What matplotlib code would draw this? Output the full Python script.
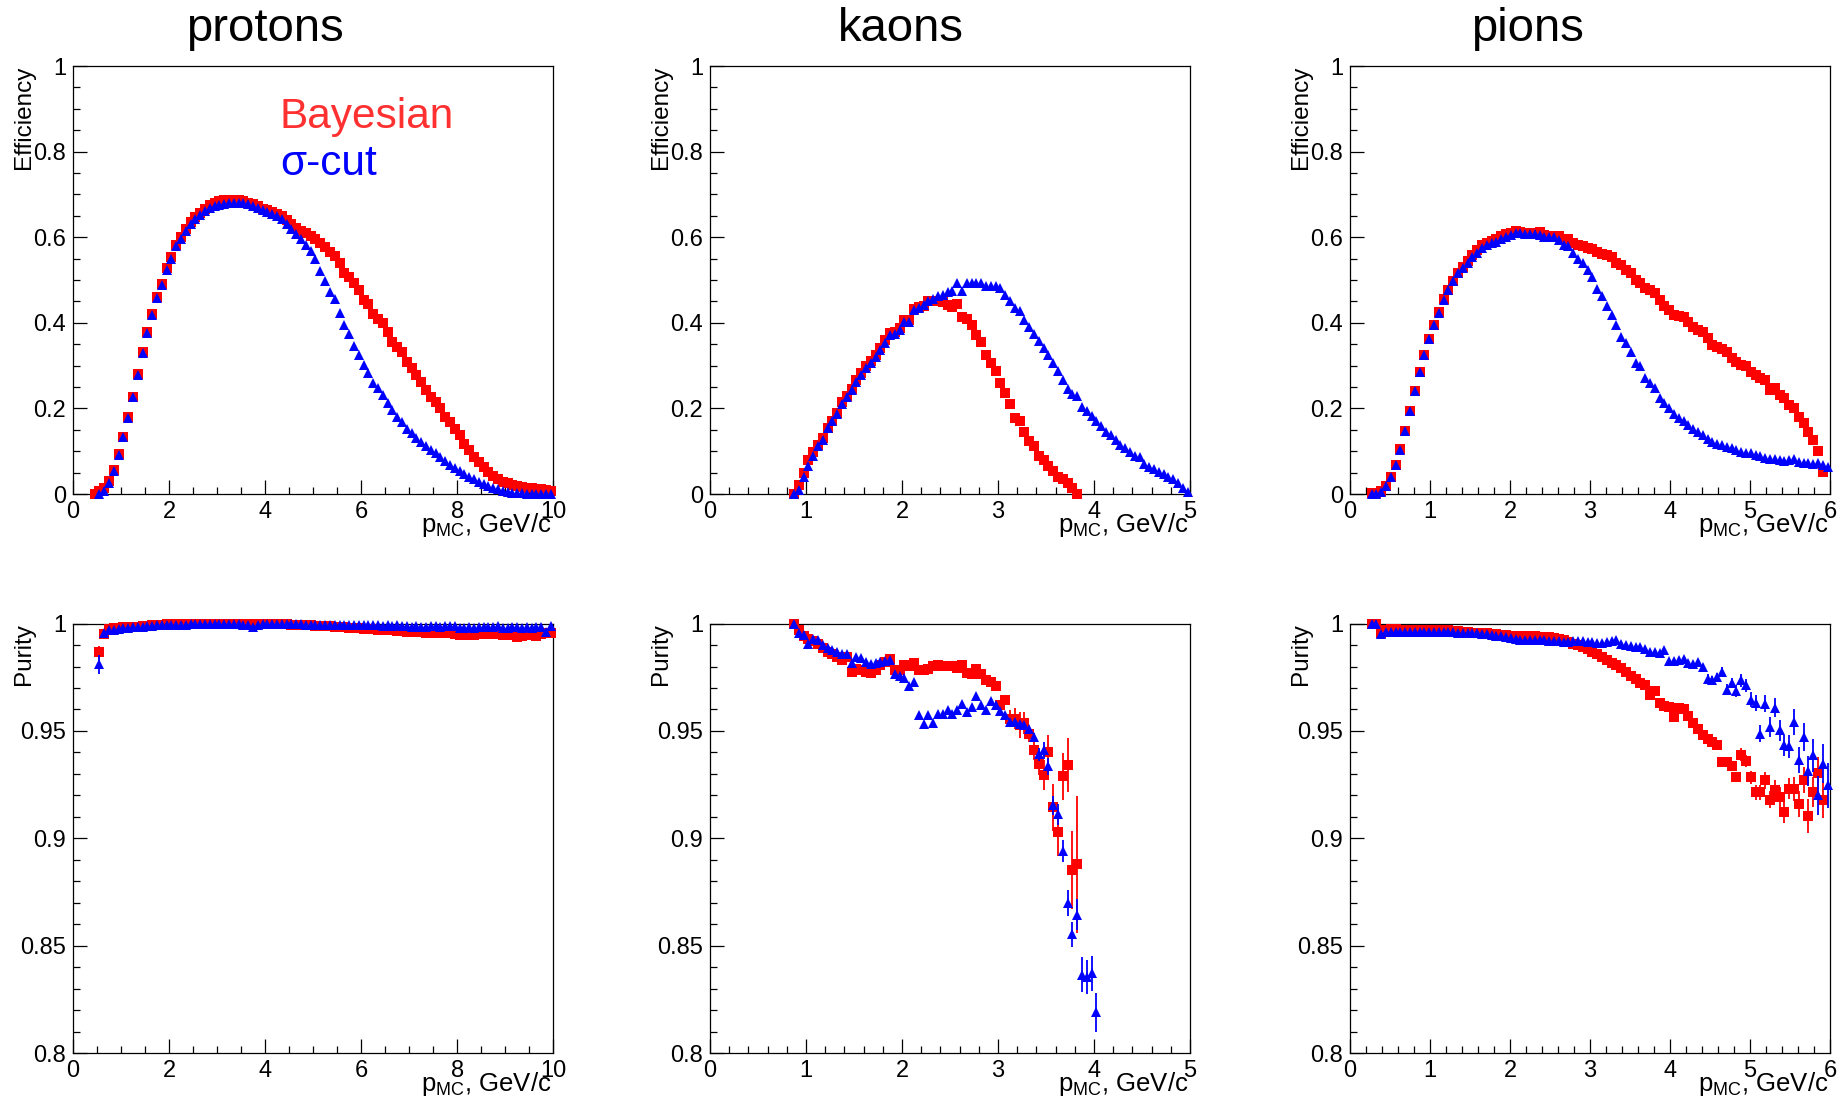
import numpy as np
import matplotlib
matplotlib.use("Agg")
import matplotlib.pyplot as plt
from matplotlib.ticker import MultipleLocator, FuncFormatter

plt.rcParams['font.family'] = ['Liberation Sans', 'DejaVu Sans']
plt.rcParams['mathtext.default'] = 'regular'

RED = '#ff0000'
BLUE = '#0000ff'

# ---------------- data (100-bin histograms) -------------
# protons: bin width 0.1 GeV/c
proton_eff_bayes_x0 = 0.45
proton_eff_bayes = [
    0.001, 0.006, 0.014, 0.030, 0.056, 0.093, 0.134, 0.180, 0.227, 0.280,
    0.331, 0.378, 0.420, 0.460, 0.490, 0.527, 0.553, 0.582, 0.601, 0.620,
    0.636, 0.647, 0.657, 0.667, 0.675, 0.681, 0.684, 0.686, 0.687, 0.687,
    0.686, 0.685, 0.681, 0.677, 0.672, 0.667, 0.663, 0.659, 0.655, 0.650,
    0.641, 0.631, 0.622, 0.615, 0.610, 0.604, 0.597, 0.587, 0.578, 0.566,
    0.555, 0.539, 0.516, 0.508, 0.492, 0.477, 0.453, 0.444, 0.420, 0.410,
    0.399, 0.379, 0.356, 0.344, 0.333, 0.309, 0.294, 0.278, 0.262, 0.243,
    0.227, 0.216, 0.200, 0.181, 0.169, 0.153, 0.138, 0.118, 0.103, 0.087,
    0.076, 0.064, 0.052, 0.042, 0.034, 0.029, 0.025, 0.021, 0.019, 0.017,
    0.015, 0.013, 0.012, 0.011, 0.009, 0.008]
proton_eff_sigma_x0 = 0.55
proton_eff_sigma = [
    0.000, 0.008, 0.025, 0.055, 0.092, 0.133, 0.178, 0.226, 0.279, 0.330,
    0.377, 0.419, 0.459, 0.489, 0.524, 0.550, 0.579, 0.597, 0.615, 0.631,
    0.643, 0.652, 0.661, 0.668, 0.673, 0.676, 0.678, 0.679, 0.680, 0.680,
    0.679, 0.677, 0.673, 0.668, 0.663, 0.659, 0.654, 0.649, 0.642, 0.632,
    0.620, 0.608, 0.596, 0.583, 0.568, 0.548, 0.522, 0.498, 0.473, 0.455,
    0.424, 0.395, 0.373, 0.347, 0.325, 0.301, 0.283, 0.260, 0.247, 0.231,
    0.213, 0.196, 0.179, 0.169, 0.153, 0.142, 0.132, 0.122, 0.112, 0.103,
    0.095, 0.086, 0.078, 0.068, 0.062, 0.055, 0.047, 0.040, 0.034, 0.029,
    0.023, 0.019, 0.015, 0.011, 0.008, 0.005, 0.003, 0.002, 0.002, 0.001,
    0.001, 0.001, 0.001, 0.001, 0.001]
proton_pur_x0 = 0.55
proton_pur_bayes = [
    0.9867, 0.9950, 0.9975, 0.9979, 0.9981, 0.9983, 0.9984, 0.9985, 0.9986, 0.9988,
    0.9990, 0.9991, 0.9991, 0.9993, 0.9996, 0.9997, 0.9998, 0.9998, 0.9998, 0.9998,
    0.9998, 0.9998, 0.9998, 0.9998, 0.9998, 0.9998, 0.9998, 0.9998, 0.9998, 0.9998,
    0.9997, 0.9997, 0.9997, 0.9997, 0.9997, 0.9997, 0.9997, 0.9997, 0.9997, 0.9997,
    0.9995, 0.9993, 0.9992, 0.9991, 0.9991, 0.9990, 0.9989, 0.9988, 0.9987, 0.9986,
    0.9985, 0.9983, 0.9981, 0.9980, 0.9979, 0.9977, 0.9975, 0.9973, 0.9972, 0.9970,
    0.9969, 0.9968, 0.9966, 0.9965, 0.9962, 0.9961, 0.9960, 0.9962, 0.9958, 0.9955,
    0.9957, 0.9959, 0.9956, 0.9957, 0.9952, 0.9948, 0.9950, 0.9946, 0.9945, 0.9950,
    0.9952, 0.9951, 0.9952, 0.9950, 0.9948, 0.9947, 0.9945, 0.9936, 0.9940, 0.9946,
    0.9948, 0.9944, 0.9950, 0.9955, 0.9957]
proton_pur_sigma = [
    0.9810, 0.9955, 0.9968, 0.9972, 0.9975, 0.9978, 0.9980, 0.9982, 0.9984, 0.9986,
    0.9988, 0.9990, 0.9991, 0.9992, 0.9993, 0.9994, 0.9995, 0.9995, 0.9995, 0.9996,
    0.9996, 0.9996, 0.9996, 0.9996, 0.9996, 0.9996, 0.9996, 0.9996, 0.9996, 0.9996,
    0.9995, 0.9993, 0.9985, 0.9995, 0.9996, 0.9996, 0.9996, 0.9996, 0.9996, 0.9996,
    0.9996, 0.9996, 0.9996, 0.9995, 0.9995, 0.9995, 0.9995, 0.9994, 0.9995, 0.9994,
    0.9994, 0.9993, 0.9994, 0.9993, 0.9994, 0.9993, 0.9992, 0.9991, 0.9992, 0.9990,
    0.9991, 0.9990, 0.9991, 0.9989, 0.9988, 0.9986, 0.9987, 0.9985, 0.9984, 0.9987,
    0.9990, 0.9985, 0.9988, 0.9987, 0.9989, 0.9978, 0.9980, 0.9982, 0.9981, 0.9983,
    0.9982, 0.9984, 0.9985, 0.9990, 0.9980, 0.9979, 0.9982, 0.9985, 0.9981, 0.9984,
    0.9980, 0.9983, 0.9985, 0.9960, 0.9990]
proton_pur_bayes_err_head = [0.003, 0.001]
proton_pur_sigma_err_head = [0.0045, 0.001]

# kaons: bin width 0.05 GeV/c
kaon_x0 = 0.875
kaon_eff_bayes = [
    0.000, 0.020, 0.050, 0.080, 0.098, 0.115, 0.131, 0.155, 0.170, 0.190,
    0.215, 0.230, 0.246, 0.266, 0.282, 0.298, 0.312, 0.326, 0.342, 0.360,
    0.376, 0.378, 0.387, 0.406, 0.406, 0.432, 0.438, 0.440, 0.450, 0.450,
    0.450, 0.448, 0.442, 0.438, 0.444, 0.414, 0.410, 0.394, 0.371, 0.355,
    0.326, 0.306, 0.288, 0.259, 0.235, 0.211, 0.178, 0.170, 0.146, 0.123,
    0.112, 0.090, 0.080, 0.066, 0.054, 0.040, 0.035, 0.026, 0.014, 0.000]
kaon_eff_sigma = [
    0.000, 0.010, 0.040, 0.066, 0.090, 0.112, 0.126, 0.154, 0.170, 0.187,
    0.211, 0.227, 0.243, 0.262, 0.278, 0.294, 0.306, 0.320, 0.336, 0.354,
    0.371, 0.374, 0.384, 0.402, 0.402, 0.430, 0.434, 0.442, 0.450, 0.455,
    0.463, 0.466, 0.472, 0.475, 0.492, 0.475, 0.492, 0.494, 0.494, 0.494,
    0.486, 0.486, 0.486, 0.482, 0.466, 0.450, 0.434, 0.427, 0.406, 0.390,
    0.374, 0.358, 0.342, 0.326, 0.306, 0.288, 0.266, 0.246, 0.234, 0.230,
    0.203, 0.194, 0.182, 0.170, 0.158, 0.146, 0.138, 0.126, 0.115, 0.107,
    0.098, 0.090, 0.086, 0.070, 0.064, 0.058, 0.051, 0.046, 0.040, 0.034,
    0.026, 0.014, 0.004]
kaon_pur_bayes = [
    1.0000, 0.9969, 0.9941, 0.9930, 0.9919, 0.9907, 0.9888, 0.9868, 0.9860, 0.9845,
    0.9832, 0.9845, 0.9775, 0.9790, 0.9782, 0.9775, 0.9770, 0.9782, 0.9806, 0.9821,
    0.9837, 0.9782, 0.9786, 0.9806, 0.9801, 0.9817, 0.9786, 0.9786, 0.9790, 0.9801,
    0.9806, 0.9801, 0.9801, 0.9801, 0.9795, 0.9806, 0.9770, 0.9767, 0.9790, 0.9767,
    0.9736, 0.9728, 0.9708, 0.9619, 0.9646, 0.9557, 0.9557, 0.9526, 0.9537, 0.9487,
    0.9413, 0.9344, 0.9293, 0.9402, 0.9145, 0.9029, 0.9288, 0.9340, 0.8853, 0.8878]
kaon_pur_sigma = [
    1.0000, 0.9956, 0.9946, 0.9907, 0.9930, 0.9925, 0.9899, 0.9888, 0.9879, 0.9868,
    0.9860, 0.9860, 0.9817, 0.9845, 0.9841, 0.9821, 0.9814, 0.9817, 0.9821, 0.9826,
    0.9829, 0.9764, 0.9754, 0.9748, 0.9708, 0.9728, 0.9573, 0.9534, 0.9573, 0.9537,
    0.9578, 0.9580, 0.9596, 0.9578, 0.9599, 0.9624, 0.9588, 0.9611, 0.9661, 0.9619,
    0.9599, 0.9639, 0.9619, 0.9593, 0.9573, 0.9542, 0.9542, 0.9534, 0.9526, 0.9510,
    0.9472, 0.9391, 0.9410, 0.9335, 0.9153, 0.9111, 0.8940, 0.8698, 0.8552, 0.8645,
    0.8365, 0.8353, 0.8371, 0.8190]
kaon_pur_bayes_err_tail = [0.002, 0.002, 0.004, 0.005, 0.006, 0.005, 0.004, 0.005, 0.005,
                           0.007, 0.008, 0.011, 0.011, 0.011, 0.0125, 0.018, 0.032]
kaon_pur_sigma_err_tail = [0.002, 0.003, 0.004, 0.004, 0.0045, 0.005, 0.005, 0.006, 0.006,
                           0.0074, 0.008, 0.008, 0.008, 0.009]

# pions: bin width 0.06 GeV/c
pion_x0 = 0.27
pion_eff_bayes = [
    0.002, 0.003, 0.008, 0.019, 0.040, 0.069, 0.105, 0.148, 0.195, 0.241,
    0.286, 0.325, 0.362, 0.396, 0.426, 0.455, 0.477, 0.498, 0.517, 0.531,
    0.545, 0.558, 0.570, 0.582, 0.587, 0.592, 0.597, 0.603, 0.607, 0.611,
    0.615, 0.613, 0.611, 0.611, 0.609, 0.613, 0.605, 0.603, 0.603, 0.603,
    0.597, 0.595, 0.587, 0.582, 0.579, 0.576, 0.572, 0.566, 0.561, 0.558,
    0.553, 0.540, 0.535, 0.523, 0.516, 0.500, 0.492, 0.481, 0.477, 0.469,
    0.453, 0.439, 0.430, 0.418, 0.416, 0.414, 0.403, 0.391, 0.383, 0.379,
    0.364, 0.348, 0.344, 0.340, 0.333, 0.317, 0.309, 0.301, 0.298, 0.286,
    0.278, 0.270, 0.266, 0.243, 0.247, 0.231, 0.224, 0.208, 0.200, 0.181,
    0.165, 0.146, 0.126, 0.101, 0.052]
pion_eff_sigma = [
    0.000, 0.001, 0.005, 0.019, 0.039, 0.068, 0.104, 0.147, 0.194, 0.241,
    0.286, 0.325, 0.362, 0.396, 0.424, 0.453, 0.477, 0.498, 0.516, 0.527,
    0.539, 0.553, 0.564, 0.574, 0.582, 0.586, 0.590, 0.596, 0.600, 0.605,
    0.609, 0.609, 0.607, 0.607, 0.607, 0.605, 0.600, 0.601, 0.600, 0.593,
    0.582, 0.579, 0.564, 0.548, 0.539, 0.523, 0.506, 0.478, 0.463, 0.439,
    0.418, 0.395, 0.366, 0.354, 0.331, 0.307, 0.298, 0.270, 0.259, 0.247,
    0.224, 0.213, 0.200, 0.187, 0.178, 0.171, 0.161, 0.153, 0.146, 0.138,
    0.128, 0.122, 0.118, 0.114, 0.111, 0.107, 0.103, 0.099, 0.095, 0.095,
    0.091, 0.089, 0.085, 0.081, 0.083, 0.079, 0.078, 0.079, 0.081, 0.076,
    0.072, 0.073, 0.070, 0.072, 0.068, 0.064]
pion_pur_bayes = [
    1.0000, 1.0000, 0.9955, 0.9972, 0.9975, 0.9973, 0.9970, 0.9968, 0.9969, 0.9970,
    0.9971, 0.9972, 0.9972, 0.9972, 0.9971, 0.9970, 0.9968, 0.9966, 0.9964, 0.9962,
    0.9960, 0.9958, 0.9957, 0.9956, 0.9955, 0.9953, 0.9951, 0.9949, 0.9947, 0.9944,
    0.9940, 0.9938, 0.9940, 0.9943, 0.9940, 0.9938, 0.9936, 0.9936, 0.9935, 0.9930,
    0.9922, 0.9914, 0.9906, 0.9900, 0.9890, 0.9880, 0.9868, 0.9858, 0.9846, 0.9830,
    0.9816, 0.9808, 0.9795, 0.9775, 0.9756, 0.9740, 0.9725, 0.9712, 0.9665, 0.9688,
    0.9630, 0.9617, 0.9612, 0.9567, 0.9606, 0.9600, 0.9570, 0.9535, 0.9510, 0.9483,
    0.9462, 0.9448, 0.9433, 0.9355, 0.9355, 0.9335, 0.9285, 0.9390, 0.9360, 0.9285,
    0.9215, 0.9215, 0.9270, 0.9180, 0.9226, 0.9192, 0.9122, 0.9231, 0.9231, 0.9160,
    0.9273, 0.9103, 0.9215, 0.9304, 0.9180]
pion_pur_sigma = [
    1.0000, 1.0000, 0.9953, 0.9962, 0.9963, 0.9962, 0.9961, 0.9960, 0.9960, 0.9961,
    0.9961, 0.9962, 0.9961, 0.9961, 0.9961, 0.9960, 0.9960, 0.9959, 0.9958, 0.9957,
    0.9956, 0.9955, 0.9954, 0.9952, 0.9950, 0.9947, 0.9944, 0.9940, 0.9936, 0.9932,
    0.9928, 0.9925, 0.9923, 0.9922, 0.9922, 0.9923, 0.9922, 0.9921, 0.9920, 0.9918,
    0.9916, 0.9914, 0.9918, 0.9920, 0.9917, 0.9915, 0.9912, 0.9910, 0.9908, 0.9912,
    0.9918, 0.9922, 0.9905, 0.9900, 0.9896, 0.9893, 0.9890, 0.9880, 0.9868, 0.9866,
    0.9863, 0.9879, 0.9826, 0.9826, 0.9829, 0.9837, 0.9817, 0.9814, 0.9821, 0.9798,
    0.9744, 0.9736, 0.9751, 0.9775, 0.9692, 0.9723, 0.9686, 0.9736, 0.9712, 0.9646,
    0.9630, 0.9487, 0.9627, 0.9518, 0.9608, 0.9503, 0.9433, 0.9428, 0.9541, 0.9363,
    0.9472, 0.9313, 0.9386, 0.9200, 0.9347, 0.9246]
pion_pur_bayes_err_tail = [0.0015, 0.002, 0.002, 0.0025, 0.003, 0.003, 0.003, 0.0035, 0.0035, 0.004,
                           0.004, 0.0045, 0.0045, 0.005, 0.005, 0.0055, 0.006, 0.006, 0.0078, 0.007,
                           0.0075, 0.0085]
pion_pur_sigma_err_tail = [0.0012, 0.002, 0.002, 0.002, 0.0022, 0.0025, 0.0025, 0.003, 0.003, 0.003,
                           0.0035, 0.0035, 0.004, 0.004, 0.0045, 0.0045, 0.005, 0.005, 0.0055, 0.006,
                           0.006, 0.0065, 0.007, 0.0075, 0.009, 0.009, 0.0105]


def centres(first, width, n):
    return first + width * np.arange(n)


def errors(n, head=(), tail=()):
    err = np.zeros(n)
    err[:len(head)] = head
    if len(tail):
        err[n - len(tail):] = tail
    return err


def draw(ax, first, width, vals, err, colour, marker, size, z):
    x = centres(first, width, len(vals))
    eb = ax.errorbar(x, vals, yerr=err, fmt=marker, color=colour, ms=size, mew=0,
                     elinewidth=1.3, capsize=0, zorder=z)
    eb[0].set_clip_on(False)
    for c in eb[2]:
        c.set_clip_on(False)


def style(ax, xmax, xmaj, xmin, ylim, ymaj, ymin, ylabel):
    ax.set_xlim(0, xmax)
    ax.set_ylim(*ylim)
    ax.xaxis.set_major_locator(MultipleLocator(xmaj))
    ax.xaxis.set_minor_locator(MultipleLocator(xmin))
    ax.yaxis.set_major_locator(MultipleLocator(ymaj))
    ax.yaxis.set_minor_locator(MultipleLocator(ymin))
    fmt = FuncFormatter(lambda v, p: '{:g}'.format(round(v, 4)))
    ax.xaxis.set_major_formatter(fmt)
    ax.yaxis.set_major_formatter(fmt)
    ax.tick_params(which='both', direction='in', top=False, right=False,
                   labelsize=17, width=0.9, pad=5)
    ax.tick_params(which='major', length=10)
    ax.tick_params(which='minor', length=5.3)
    for s in ax.spines.values():
        s.set_linewidth(0.9)
    ax.text(-0.103, 1.0, ylabel, transform=ax.transAxes, rotation=90,
            ha='center', va='top', fontsize=17.5)
    ax.text(0.997, -0.088, r'p$_{MC}$, GeV/c', transform=ax.transAxes,
            ha='right', va='baseline', fontsize=18.5)


fig = plt.figure(figsize=(18.45, 11.06), dpi=100)
lefts = [0.0396, 0.3848, 0.7317]
W = 0.2602
top_row = [fig.add_axes([l, 0.5533, W, 0.3870]) for l in lefts]
bot_row = [fig.add_axes([l, 0.0479, W, 0.3883]) for l in lefts]

SQ, TR = 7.4, 6.6

# protons
ax = top_row[0]
draw(ax, proton_eff_bayes_x0, 0.1, proton_eff_bayes, None, RED, 's', SQ, 3)
draw(ax, proton_eff_sigma_x0, 0.1, proton_eff_sigma, None, BLUE, '^', TR, 4)
style(ax, 10, 2, 0.5, (0, 1), 0.2, 0.05, 'Efficiency')
ax.text(0.431, 0.882, 'Bayesian', color='#ff3030', fontsize=30.5, transform=ax.transAxes, va='center')
ax.text(0.431, 0.770, 'σ-cut', color=BLUE, fontsize=30.5, transform=ax.transAxes, va='center')

ax = bot_row[0]
draw(ax, proton_pur_x0, 0.1, proton_pur_bayes,
     errors(len(proton_pur_bayes), head=proton_pur_bayes_err_head), RED, 's', SQ, 3)
draw(ax, proton_pur_x0, 0.1, proton_pur_sigma,
     errors(len(proton_pur_sigma), head=proton_pur_sigma_err_head), BLUE, '^', TR, 4)
style(ax, 10, 2, 0.5, (0.8, 1), 0.05, 0.01, 'Purity')

# kaons
ax = top_row[1]
draw(ax, kaon_x0, 0.05, kaon_eff_bayes, None, RED, 's', SQ, 3)
draw(ax, kaon_x0, 0.05, kaon_eff_sigma, None, BLUE, '^', TR, 4)
style(ax, 5, 1, 0.2, (0, 1), 0.2, 0.05, 'Efficiency')

ax = bot_row[1]
draw(ax, kaon_x0, 0.05, kaon_pur_bayes,
     errors(len(kaon_pur_bayes), tail=kaon_pur_bayes_err_tail), RED, 's', SQ, 3)
draw(ax, kaon_x0, 0.05, kaon_pur_sigma,
     errors(len(kaon_pur_sigma), tail=kaon_pur_sigma_err_tail), BLUE, '^', TR, 4)
style(ax, 5, 1, 0.2, (0.8, 1), 0.05, 0.01, 'Purity')

# pions
ax = top_row[2]
draw(ax, pion_x0, 0.06, pion_eff_bayes, None, RED, 's', SQ, 3)
draw(ax, pion_x0, 0.06, pion_eff_sigma, None, BLUE, '^', TR, 4)
style(ax, 6, 1, 0.2, (0, 1), 0.2, 0.05, 'Efficiency')

ax = bot_row[2]
draw(ax, pion_x0, 0.06, pion_pur_bayes,
     errors(len(pion_pur_bayes), tail=pion_pur_bayes_err_tail), RED, 's', SQ, 3)
draw(ax, pion_x0, 0.06, pion_pur_sigma,
     errors(len(pion_pur_sigma), tail=pion_pur_sigma_err_tail), BLUE, '^', TR, 4)
style(ax, 6, 1, 0.2, (0.8, 1), 0.05, 0.01, 'Purity')

for x, name in zip([0.1436, 0.4885, 0.8278], ['protons', 'kaons', 'pions']):
    fig.text(x, 0.963, name, ha='center', va='baseline', fontsize=34)

fig.savefig('out.png', dpi=100)
